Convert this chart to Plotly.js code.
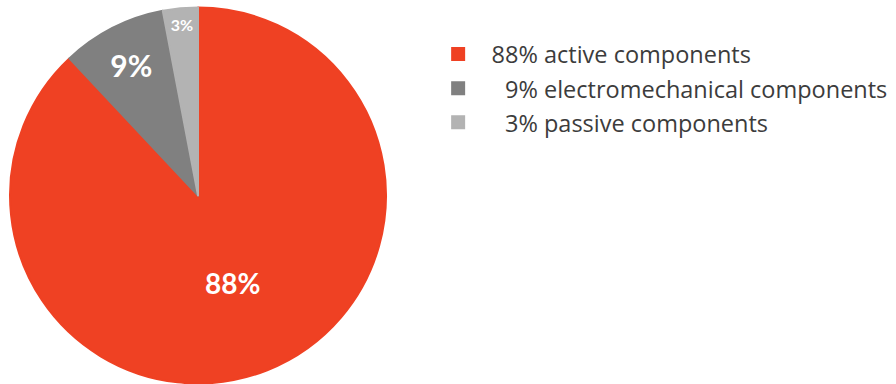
<!DOCTYPE html>
<html>
<head>
<meta charset="utf-8">
<script src="https://cdn.plot.ly/plotly-3.0.1.min.js"></script>
<style>html,body{margin:0;padding:0;background:#fff;}#chart{width:896px;height:384px;}</style>
</head>
<body>
<div id="chart"></div>
<script>
var categories = ["active components", "electromechanical components", "passive components"];
var shares = [88, 9, 3];
var colors = ["#EF4123", "#808080", "#B3B3B3"];
var labelSizes = [28, 30, 16];

var pctText = shares.map(function (v) { return v + "%"; });
var legendNames = shares.map(function (v, i) {
  var pad = v < 10 ? "\u2007\u2007" : "\u2007";
  return '<span style="font-size:23.5px">' + pad + v + "% " + categories[i] + "</span>";
});

var trace = {
  type: "pie",
  labels: legendNames,
  values: shares,
  text: pctText,
  textinfo: "text",
  textposition: "inside",
  insidetextorientation: "horizontal",
  hoverinfo: "skip",
  sort: false,
  direction: "clockwise",
  rotation: 0,
  marker: { colors: colors, line: { color: colors, width: 2 } },
  textfont: { family: "Lato", color: "#ffffff", size: labelSizes, weight: "bold" },
  domain: { x: [0.011, 0.431], y: [0.0014, 0.9805] }
};

var layout = {
  width: 896,
  height: 384,
  margin: { l: 0, r: 0, t: 0, b: 0 },
  paper_bgcolor: "#ffffff",
  showlegend: true,
  legend: {
    x: 0.489, y: 0.917, xanchor: "left", yanchor: "top",
    font: { family: "Open Sans", size: 24, color: "#3c3c3c" },
    bgcolor: "rgba(0,0,0,0)"
  }
};

Plotly.newPlot("chart", [trace], layout, { displayModeBar: false, staticPlot: true });
</script>
</body>
</html>
